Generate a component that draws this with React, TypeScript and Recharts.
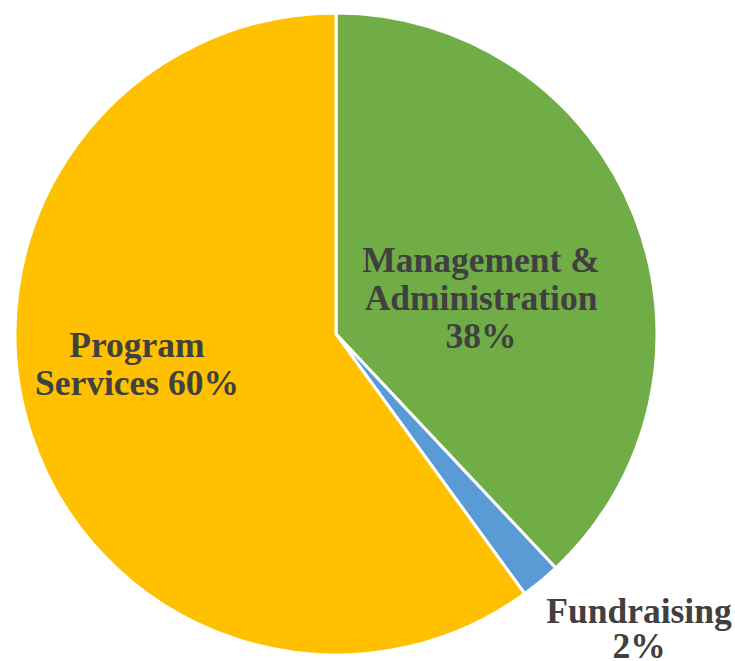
import React from 'react';
import { PieChart, Pie, Cell } from 'recharts';

const names = ['Management & Administration', 'Fundraising', 'Program Services'];
const values = [38, 2, 60];
const labelLines = [
  ['Management &', 'Administration', '38%'],
  ['Fundraising', '2%'],
  ['Program', 'Services 60%'],
];

const COLORS = ['#70AD47', '#5B9BD5', '#FFC000'];
// offset of the first text baseline from the pie centre, and line spacing, by slice
const LABEL_OFFSETS = [
  [145, -62, 38],
  [303, 289, 35],
  [-199, 23, 38],
];

const data = names.map((name, i) => ({ name, value: values[i] }));

const renderLabel = (props: any) => {
  const { cx, cy, index } = props;
  const [dx, dy, lh] = LABEL_OFFSETS[index];
  return (
    <text
      key={`label-${index}`}
      x={cx + dx}
      y={cy + dy}
      textAnchor="middle"
      fill="#404040"
      fontFamily="'Liberation Serif', serif"
      fontWeight="bold"
      fontSize={35.5}
    >
      {labelLines[index].map((line, j) => (
        <tspan key={j} x={cx + dx} dy={j === 0 ? 0 : lh}>
          {line}
        </tspan>
      ))}
    </text>
  );
};

const App: React.FC = () => {
  return (
    <div style={{ position: 'absolute', left: 0, top: 0, width: 735, height: 661, background: '#fff' }}>
      <PieChart width={735} height={661} margin={{ top: 0, right: 0, bottom: 0, left: 0 }}>
        <Pie
          data={data}
          dataKey="value"
          nameKey="name"
          cx={336}
          cy={334}
          outerRadius={321}
          startAngle={90}
          endAngle={-270}
          stroke="#fff"
          strokeWidth={3}
          labelLine={false}
          label={renderLabel}
          isAnimationActive={false}
        >
          {data.map((entry, index) => (
            <Cell key={`cell-${index}`} fill={COLORS[index]} />
          ))}
        </Pie>
      </PieChart>
    </div>
  );
};

export default App;
